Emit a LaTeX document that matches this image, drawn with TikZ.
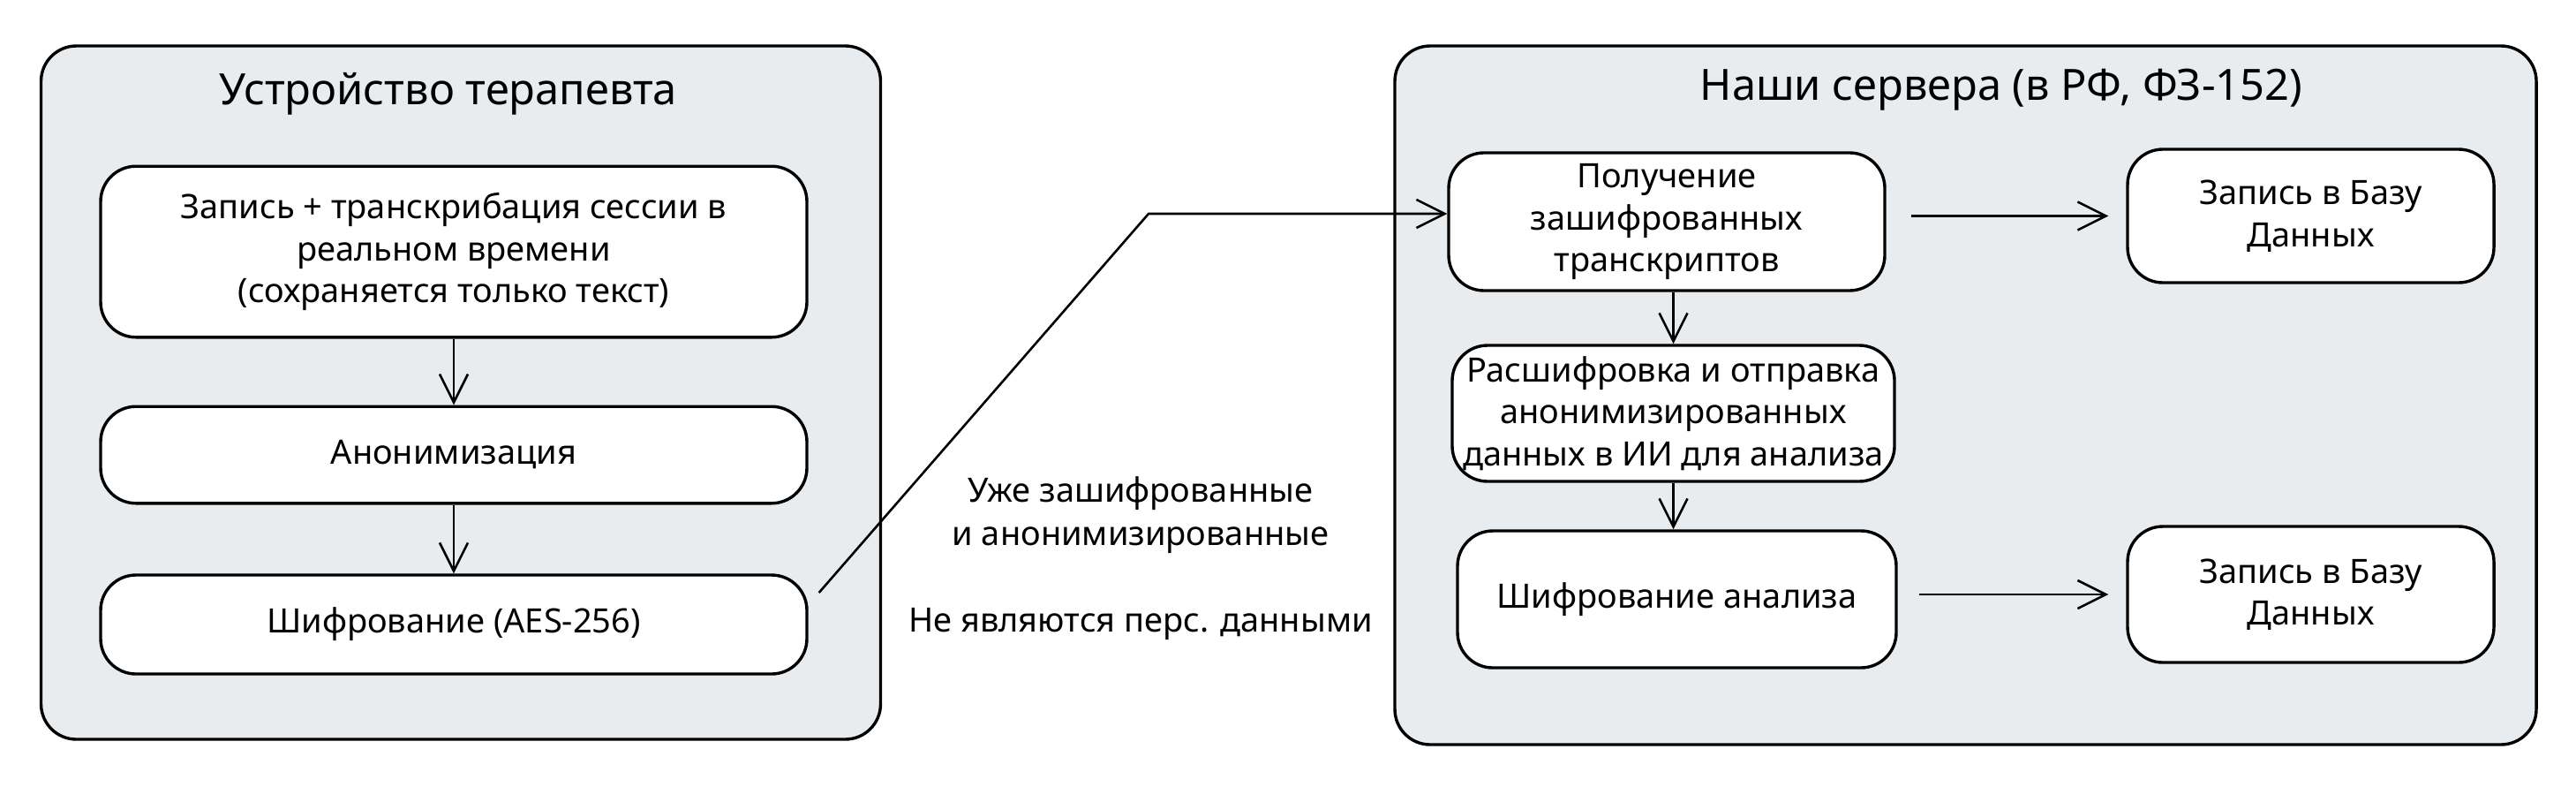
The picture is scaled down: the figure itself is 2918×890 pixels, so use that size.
\documentclass[tikz,border=0pt]{standalone}
\usepackage{fontspec}
\setmainfont{Noto Sans}
\usetikzlibrary{arrows.meta}
\definecolor{areagray}{RGB}{233,236,239}

\begin{document}
\begin{tikzpicture}[x=0.25pt, y=-0.25pt, line width=0.85pt,
	area/.style={draw, fill=areagray, rounded corners=10pt, inner sep=0pt},
	stage/.style={draw, fill=white, rounded corners=10pt, align=center, inner sep=2pt, font=\fontsize{9.5}{11.9}\selectfont},
	heading/.style={font=\fontsize{12.2}{14}\selectfont},
	arr/.style={-{Straight Barb[length=8pt, width=8pt]}, line width=0.65pt}]
			\useasboundingbox (0,0) rectangle (2918,890);
			
			% device side
			\node[area, minimum width=237.75pt, minimum height=196.25pt] (dev) at (522, 444.5) {};
			\node[heading] (devtitle) at (508, 106) {Устройство терапевта};
			\node[stage, minimum width=200pt, minimum height=48.4pt] (rec)  at (514, 285) {Запись + транскрибация сессии в\\реальном времени\\(сохраняется только текст)};
			\node[stage, minimum width=200pt, minimum height=27.4pt] (anon) at (514, 515) {Анонимизация};
			\node[stage, minimum width=200pt, minimum height=28pt]   (enc)  at (514, 707) {Шифрование (AES-256)};
			
			% server side
			\node[area, minimum width=323.25pt, minimum height=197.75pt] (srv) at (2226.5, 447.5) {};
			\node[heading] (srvtitle) at (2267, 102) {Наши сервера (в РФ, ФЗ-152)};
			\node[stage, minimum width=123.5pt,  minimum height=39pt]    (recv)  at (1888, 251)     {Получение\\зашифрованных\\транскриптов};
			\node[stage, minimum width=103.75pt, minimum height=37.75pt] (db1)   at (2617.5, 244.5) {Запись в Базу\\Данных};
			\node[stage, minimum width=125.25pt, minimum height=38.5pt]  (decr)  at (1895.5, 468)   {Расшифровка и отправка\\анонимизированных\\данных в ИИ для анализа};
			\node[stage, minimum width=124.25pt, minimum height=38.75pt] (encan) at (1899.5, 678.5) {Шифрование анализа};
			\node[stage, minimum width=103.75pt, minimum height=38.5pt]  (db2)   at (2617.5, 673)   {Запись в Базу\\Данных};
			
			\node[font=\fontsize{9.5}{12.25}\selectfont, align=center] (note) at (1292, 632) {Уже зашифрованные\\и анонимизированные\\[12.25pt]Не являются перс. данными};
			
			\coordinate (knee) at (1301, 242);
			
			\path (rec)  edge[arr] (anon);
			\path (anon) edge[arr] (enc);
			\draw[arr] ([xshift=3pt, yshift=9pt]enc.east) -- (knee) -- (recv.west |- knee);
			\path (recv.south -| decr) edge[arr] (decr);
			\path (decr) edge[arr] (decr |- encan.north);
			\path (recv.east |- db1.west)  edge[arr, shorten <=7pt, shorten >=5pt] (db1.west);
			\path (encan.east |- db2.west) edge[arr, shorten <=6pt, shorten >=5pt] (db2.west);
			
		\end{tikzpicture}
\end{document}
